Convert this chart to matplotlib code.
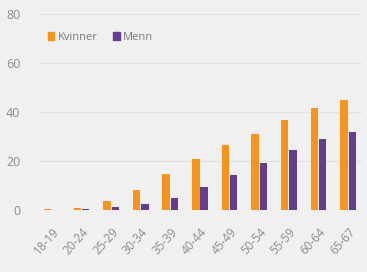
import matplotlib
matplotlib.use("Agg")
import matplotlib.pyplot as plt
import numpy as np
from matplotlib.patches import Patch

# ========== Data ==========
age_groups = ["18-19", "20-24", "25-29", "30-34", "35-39", "40-44",
              "45-49", "50-54", "55-59", "60-64", "65-67"]
kvinner = [0.3, 0.7, 3.8, 8.2, 14.5, 20.8, 26.6, 31.0, 36.8, 41.8, 44.9]
menn = [0.2, 0.4, 1.3, 2.4, 5.0, 9.4, 14.3, 19.3, 24.5, 28.9, 32.0]

ORANGE = "#F7941D"
PURPLE = "#663C8E"
BG = "#F0F0F0"
TXT = "#8C8C8C"

plt.rcParams['font.family'] = ['Open Sans', 'DejaVu Sans']

fig = plt.figure(figsize=(3.67, 2.72), dpi=100, facecolor=BG)
ax = fig.add_axes([40 / 367, 62 / 272, 322 / 367, 196 / 272], facecolor=BG)

x = np.arange(len(age_groups))
w = 0.25
ax.bar(x - 0.14, kvinner, width=w, color=ORANGE, zorder=3)
ax.bar(x + 0.14, menn, width=w, color=PURPLE, zorder=3)

ax.set_xlim(-0.4, 10.47)
ax.set_ylim(0, 80)
ax.set_yticks([0, 20, 40, 60, 80])
ax.yaxis.grid(True, color="#E2E2E2", linewidth=1, zorder=0)
ax.set_xticks(x)
ax.set_xticklabels(age_groups, rotation=48, ha="right", rotation_mode="anchor")
ax.tick_params(axis="x", length=0, pad=11, labelsize=8.5, labelcolor=TXT)
ax.tick_params(axis="y", length=0, pad=14, labelsize=9, labelcolor=TXT)
for s in ax.spines.values():
    s.set_visible(False)

handles = [Patch(color=ORANGE, label="Kvinner"), Patch(color=PURPLE, label="Menn")]
leg = ax.legend(handles=handles, ncol=2, loc="upper left", bbox_to_anchor=(0.01, 0.93),
                frameon=False, fontsize=8, handlelength=0.6, handleheight=0.7,
                handletextpad=0.3, columnspacing=1.4, borderaxespad=0)
for t in leg.get_texts():
    t.set_color("#7A7A7A")

fig.savefig("out.png", dpi=100, facecolor=BG)
